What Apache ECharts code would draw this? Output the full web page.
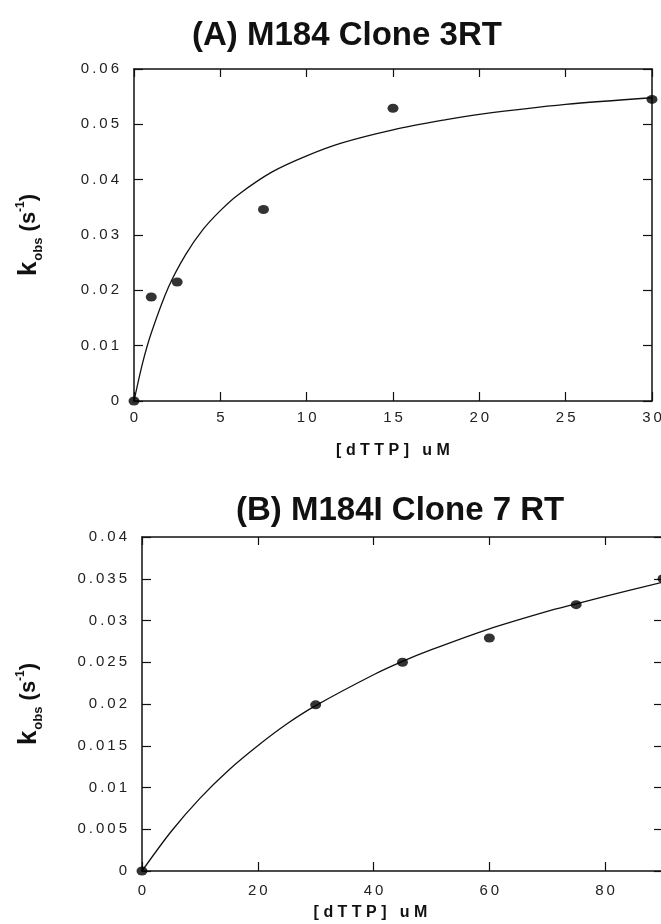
<!DOCTYPE html>
<html>
<head>
<meta charset="utf-8">
<title>kobs vs dTTP</title>
<script src="https://cdn.jsdelivr.net/npm/echarts@6/dist/echarts.min.js"></script>
<style>
  html, body { margin: 0; padding: 0; background: #fff; }
  #chart { width: 661px; height: 924px; }
</style>
</head>
<body>
<div id="chart"></div>
<script>
// (A) M184 Clone 3RT -- measured points
const dttpA = [0, 1, 2.5, 7.5, 15, 30];
const kobsA = [0, 0.0188, 0.0215, 0.0346, 0.0529, 0.0545];
// fitted curve A
const fitXA = [0, 0.5, 1, 2, 3, 4, 5, 6, 8, 10, 12, 15, 18, 20, 25, 30];
const fitYA = [0, 0.0069, 0.0123, 0.0206, 0.0265, 0.031, 0.0344, 0.0372, 0.0414, 0.0443, 0.0466, 0.049, 0.0508, 0.0518, 0.0536, 0.0548];

// (B) M184I Clone 7 RT -- measured points
const dttpB = [0, 30, 45, 60, 75, 90];
const kobsB = [0, 0.0199, 0.025, 0.0279, 0.0319, 0.035];
// fitted curve B
const fitXB = [0, 5, 10, 15, 20, 25, 30, 40, 45, 50, 60, 70, 75, 80, 90];
const fitYB = [0, 0.0047, 0.0087, 0.0121, 0.015, 0.0176, 0.0198, 0.0235, 0.0251, 0.0265, 0.029, 0.0311, 0.032, 0.0329, 0.0346];

const titles = ["(A) M184 Clone 3RT", "(B) M184I Clone 7 RT"];
const xName = "[dTTP] uM";

const FONT = "'Liberation Sans', Arial, sans-serif";
const INK = "#111";

// the original spreads its digits apart
const spaced = (s, sep) => String(s).split(" ").map((w) => w.split("").join(sep)).join(sep + sep + " ");
const tickText = (v) => spaced(+v.toFixed(3), "\u2009");

const pairs = (xs, ys) => xs.map((x, i) => [x, ys[i]]);

const yName = "{k|k}{sub|obs}{p| (s}{sup|-1}{p|)}";
const yRich = {
  k: { fontSize: 26, fontWeight: "bold", fontFamily: FONT, color: INK, lineHeight: 34, verticalAlign: "middle" },
  sub: { fontSize: 13, fontWeight: "bold", fontFamily: FONT, color: INK, lineHeight: 34, verticalAlign: "bottom", padding: [0, 0, 1, 1] },
  p: { fontSize: 22, fontWeight: "bold", fontFamily: FONT, color: INK, lineHeight: 34, verticalAlign: "middle" },
  sup: { fontSize: 12, fontWeight: "bold", fontFamily: FONT, color: INK, lineHeight: 34, verticalAlign: "top", padding: [3, 0, 0, 0] },
};

const axisLine = { show: true, onZero: false, lineStyle: { color: INK, width: 1.5 } };
const inTick = { show: true, inside: true, length: 9, lineStyle: { color: INK, width: 1.2 } };
const tickLabel = (margin) => ({
  fontSize: 15, color: "#222", fontFamily: FONT, margin: margin, formatter: tickText,
});

const xPair = (grid, max, interval, labelMargin, nameGap, namePad, showMax) => [
  {
    type: "value", gridIndex: grid, min: 0, max: max, interval: interval, position: "bottom",
    axisLine: axisLine, axisTick: inTick, splitLine: { show: false },
    axisLabel: Object.assign(tickLabel(labelMargin), { showMaxLabel: showMax }),
    name: spaced(xName, " "), nameLocation: "middle", nameGap: nameGap,
    nameTextStyle: { fontSize: 16, fontWeight: "bold", color: INK, fontFamily: FONT, padding: namePad },
  },
  {
    type: "value", gridIndex: grid, min: 0, max: max, interval: interval, position: "top",
    axisLine: axisLine, axisTick: Object.assign({}, inTick, { length: 8 }), splitLine: { show: false },
    axisLabel: { show: false },
  },
];

const yPair = (grid, max, interval, nameGap) => [
  {
    type: "value", gridIndex: grid, min: 0, max: max, interval: interval, position: "left",
    axisLine: axisLine, axisTick: inTick, splitLine: { show: false },
    axisLabel: tickLabel(15),
    name: yName, nameLocation: "middle", nameGap: nameGap, nameRotate: 90,
    nameTextStyle: { rich: yRich },
  },
  {
    type: "value", gridIndex: grid, min: 0, max: max, interval: interval, position: "right",
    axisLine: axisLine, axisTick: inTick, splitLine: { show: false },
    axisLabel: { show: false },
  },
];

const fitLine = (idx, data) => ({
  type: "line", xAxisIndex: idx, yAxisIndex: idx, data: data,
  showSymbol: false, smooth: 0.3, clip: true,
  lineStyle: { color: INK, width: 1.3 }, z: 2,
});
const dots = (idx, data) => ({
  type: "scatter", xAxisIndex: idx, yAxisIndex: idx, data: data,
  symbol: "circle", symbolSize: [11, 9], clip: false,
  itemStyle: { color: "#000" }, z: 3,
});

const option = {
  animation: false,
  backgroundColor: "#fff",
  title: [
    { text: titles[0], left: 187, top: 14, textStyle: { fontSize: 33, fontWeight: "bold", color: INK, fontFamily: FONT } },
    { text: titles[1], left: 231, top: 489, textStyle: { fontSize: 33, fontWeight: "bold", color: INK, fontFamily: FONT } },
  ],
  grid: [
    { left: 134, right: 9, top: 69, bottom: 523, outerBoundsMode: "none" },
    { left: 142, right: -2, top: 537, bottom: 53, outerBoundsMode: "none" },
  ],
  xAxis: [].concat(xPair(0, 30, 5, 9, 42, [0, 0, 0, 0], true), xPair(1, 90, 20, 12, 34, [0, 64, 0, 0], false)),
  yAxis: [].concat(yPair(0, 0.06, 0.01, 88), yPair(1, 0.04, 0.005, 96)),
  series: [
    // x/y axis indices: 0 bottom/left A, 2 bottom/left B
    fitLine(0, pairs(fitXA, fitYA)),
    dots(0, pairs(dttpA, kobsA)),
    fitLine(2, pairs(fitXB, fitYB)),
    dots(2, pairs(dttpB, kobsB)),
  ],
};

echarts.init(document.getElementById("chart"), null, { renderer: "canvas" }).setOption(option);
</script>
</body>
</html>
